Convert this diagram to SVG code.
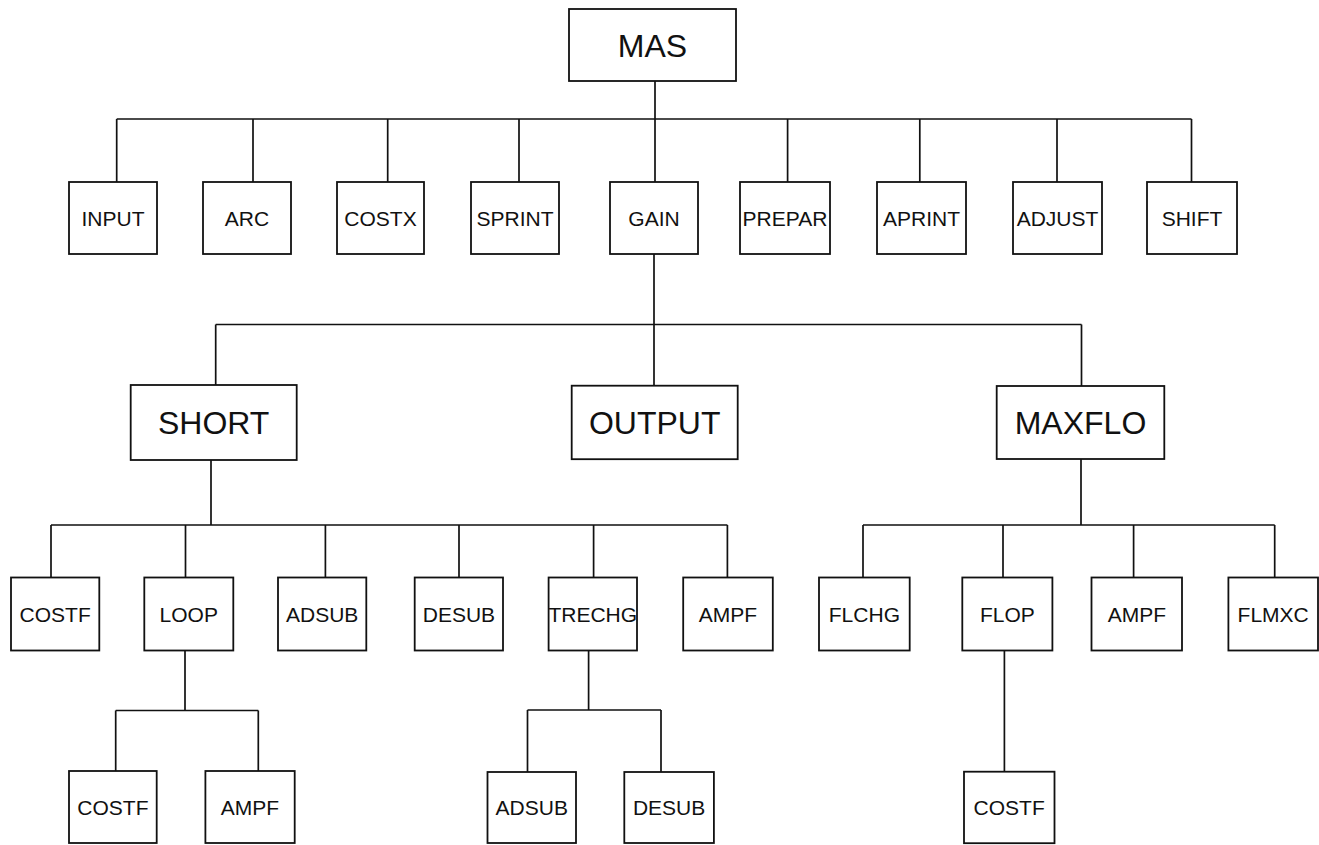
<svg xmlns="http://www.w3.org/2000/svg" width="1319" height="845" viewBox="0 0 1319 845">
<style>
.box{fill:#fff;stroke:#111;stroke-width:1.8}
.t{font-family:"Liberation Sans",Arial,Helvetica,sans-serif;font-size:21px;text-anchor:middle;fill:#111}
.big{font-size:32px}
.conn{stroke:#111;stroke-width:1.7;fill:none}
</style>
<rect width="1319" height="845" fill="#fff"/>
<g id="connectors" class="conn">
<path d="M655,81V119M116.7,119H1191.5M116.7,119V182M253,119V182M387.7,119V182M519,119V182M655,119V182M787.6,119V182M919.8,119V182M1057,119V182M1191.5,119V182"/>
<path d="M654,254V385.7M215.7,324.5H1081.5M215.7,324.5V385M1081.5,324.5V386"/>
<path d="M211,460V525M51,525H727.4M51,525V577.5M185.5,525V577.5M325.4,525V577.5M459,525V577.5M593.6,525V577.5M727.4,525V577.5"/>
<path d="M1081,459V525M863,525H1274.7M863,525V577.5M1003,525V577.5M1133.6,525V577.5M1274.7,525V577.5"/>
<path d="M185,650.5V710.5M115.7,710.5H258.3M115.7,710.5V771M258.3,710.5V771"/>
<path d="M588.6,650.5V710M527.5,710H661M527.5,710V772M661,710V772"/>
<path d="M1004.4,650.5V771.7"/>
</g>
<g id="n-mas"><rect class="box" x="569" y="9" width="167" height="72"/><text class="t big" x="652.5" y="56.5">MAS</text></g>
<g id="n-input"><rect class="box" x="69" y="182" width="88" height="72"/><text class="t" x="113" y="225.5">INPUT</text></g>
<g id="n-arc"><rect class="box" x="203" y="182" width="88" height="72"/><text class="t" x="247" y="225.5">ARC</text></g>
<g id="n-costx"><rect class="box" x="337" y="182" width="87" height="72"/><text class="t" x="380.5" y="225.5">COSTX</text></g>
<g id="n-sprint"><rect class="box" x="471" y="182" width="88" height="72"/><text class="t" x="515" y="225.5">SPRINT</text></g>
<g id="n-gain"><rect class="box" x="610" y="182" width="88" height="72"/><text class="t" x="654" y="225.5">GAIN</text></g>
<g id="n-prepar"><rect class="box" x="740" y="182" width="90" height="72"/><text class="t" x="785" y="225.5">PREPAR</text></g>
<g id="n-aprint"><rect class="box" x="877" y="182" width="89" height="72"/><text class="t" x="921.5" y="225.5">APRINT</text></g>
<g id="n-adjust"><rect class="box" x="1013" y="182" width="89" height="72"/><text class="t" x="1057.5" y="225.5">ADJUST</text></g>
<g id="n-shift"><rect class="box" x="1147" y="182" width="90" height="72"/><text class="t" x="1192" y="225.5">SHIFT</text></g>
<g id="n-short"><rect class="box" x="130.7" y="385" width="166" height="75"/><text class="t big" x="213.7" y="434">SHORT</text></g>
<g id="n-output"><rect class="box" x="571.7" y="385.7" width="166" height="73.5"/><text class="t big" x="654.7" y="434">OUTPUT</text></g>
<g id="n-maxflo"><rect class="box" x="996.7" y="386" width="167.6" height="73"/><text class="t big" x="1080.5" y="434">MAXFLO</text></g>
<g id="n-costf1"><rect class="box" x="11" y="577.5" width="88.3" height="73"/><text class="t" x="55.2" y="621.5">COSTF</text></g>
<g id="n-loop"><rect class="box" x="144.3" y="577.5" width="89" height="73"/><text class="t" x="188.8" y="621.5">LOOP</text></g>
<g id="n-adsub1"><rect class="box" x="278" y="577.5" width="88.3" height="73"/><text class="t" x="322.2" y="621.5">ADSUB</text></g>
<g id="n-desub1"><rect class="box" x="414.7" y="577.5" width="88.3" height="73"/><text class="t" x="458.9" y="621.5">DESUB</text></g>
<g id="n-trechg"><rect class="box" x="548.6" y="577.5" width="88.4" height="73"/><text class="t" x="592.8" y="621.5">TRECHG</text></g>
<g id="n-ampf1"><rect class="box" x="683.2" y="577.5" width="89.6" height="73"/><text class="t" x="728" y="621.5">AMPF</text></g>
<g id="n-flchg"><rect class="box" x="819" y="577.5" width="90.7" height="73"/><text class="t" x="864.4" y="621.5">FLCHG</text></g>
<g id="n-flop"><rect class="box" x="962.3" y="577.5" width="90.1" height="73"/><text class="t" x="1007.4" y="621.5">FLOP</text></g>
<g id="n-ampf2"><rect class="box" x="1091.5" y="577.5" width="90.5" height="73"/><text class="t" x="1136.8" y="621.5">AMPF</text></g>
<g id="n-flmxc"><rect class="box" x="1228.4" y="577.5" width="89.6" height="73"/><text class="t" x="1273.2" y="621.5">FLMXC</text></g>
<g id="n-costf2"><rect class="box" x="69" y="771" width="87.7" height="72"/><text class="t" x="112.9" y="814.5">COSTF</text></g>
<g id="n-ampf3"><rect class="box" x="205.4" y="771" width="89.3" height="72"/><text class="t" x="250" y="814.5">AMPF</text></g>
<g id="n-adsub2"><rect class="box" x="487.5" y="772" width="88.5" height="71"/><text class="t" x="531.8" y="815">ADSUB</text></g>
<g id="n-desub2"><rect class="box" x="624.3" y="772" width="89.6" height="71"/><text class="t" x="669.1" y="815">DESUB</text></g>
<g id="n-costf3"><rect class="box" x="964" y="771.7" width="90.5" height="71.5"/><text class="t" x="1009.2" y="815">COSTF</text></g>
</svg>
